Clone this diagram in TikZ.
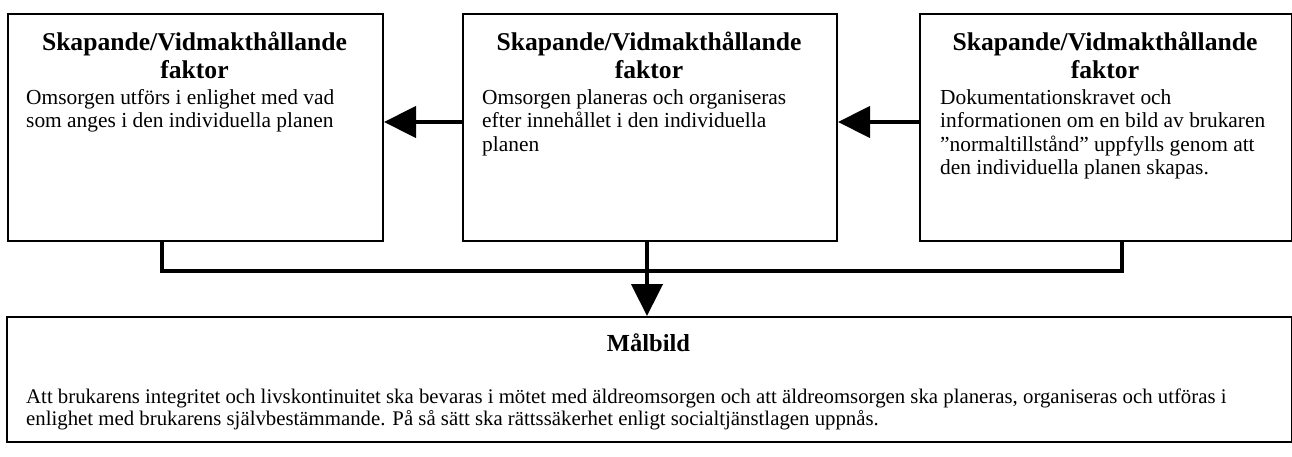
\documentclass[tikz,border=0pt]{standalone}
\usepackage{fontspec}
\setmainfont{Liberation Serif}
\usetikzlibrary{arrows.meta}
\tikzset{
  boxnode/.style={draw=black, line width=2pt, inner sep=0pt, anchor=north west},
  titletext/.style={inner sep=0pt, anchor=north, align=center, font=\bfseries\fontsize{25.6}{28}\selectfont},
  bodytext/.style={inner sep=0pt, anchor=north west, align=left, font=\fontsize{21.4}{23.5}\selectfont},
  goaltitle/.style={inner sep=0pt, anchor=north, font=\bfseries\fontsize{24.5}{26}\selectfont},
  goaltext/.style={inner sep=0pt, anchor=north west, align=left, font=\fontsize{20.8}{22}\selectfont},
  link/.style={line width=4.5pt},
  arrowlink/.style={line width=4.5pt, -{Triangle[length=32pt,width=31pt]}},
}
\begin{document}
\begin{tikzpicture}[x=1pt, y=-1pt]
\useasboundingbox (0,0) rectangle (1292,457);
% boxes
\node[boxnode, minimum width=375pt, minimum height=227pt] (b1) at (7,13) {};
\node[boxnode, minimum width=374pt, minimum height=227pt] (b2) at (462,13) {};
\node[boxnode, minimum width=372pt, minimum height=227pt] (b3) at (919,13) {};
\node[boxnode, minimum width=1285pt, minimum height=125pt] (g) at (6,316) {};
% texts
\node[titletext] (t1) at (194.5,32) {Skapande/Vidmakthållande\\faktor};
\node[titletext] (t2) at (649,32) {Skapande/Vidmakthållande\\faktor};
\node[titletext] (t3) at (1105,32) {Skapande/Vidmakthållande\\faktor};
\node[bodytext] (d1) at (26,89) {Omsorgen utförs i enlighet med vad\\som anges i den individuella planen};
\node[bodytext] (d2) at (482,89) {Omsorgen planeras och organiseras\\efter innehållet i den individuella\\planen};
\node[bodytext] (d3) at (940,89) {Dokumentationskravet och\\informationen om en bild av brukaren\\”normaltillstånd” uppfylls genom att\\den individuella planen skapas.};
\node[goaltitle] (gt) at (648.5,334) {Målbild};
\node[goaltext] (gd) at (26,389) {Att brukarens integritet och livskontinuitet ska bevaras i mötet med äldreomsorgen och att äldreomsorgen ska planeras, organiseras och utföras i\\enlighet med brukarens självbestämmande. På så sätt ska rättssäkerhet enligt socialtjänstlagen uppnås.};
% connectors
\draw[arrowlink] (b2.west |- 0,122) -- (b1.east |- 0,122);
\draw[arrowlink] (b3.west |- 0,122) -- (b2.east |- 0,122);
\coordinate (c1) at (162,271);
\coordinate (c3) at (1122,271);
\draw[link, line join=miter] (b1.south -| c1) -- (c1) -- (c3) -- (b3.south -| c3);
\draw[arrowlink] (b2.south -| 647,0) -- (g.north -| 647,0);
\end{tikzpicture}
\end{document}
